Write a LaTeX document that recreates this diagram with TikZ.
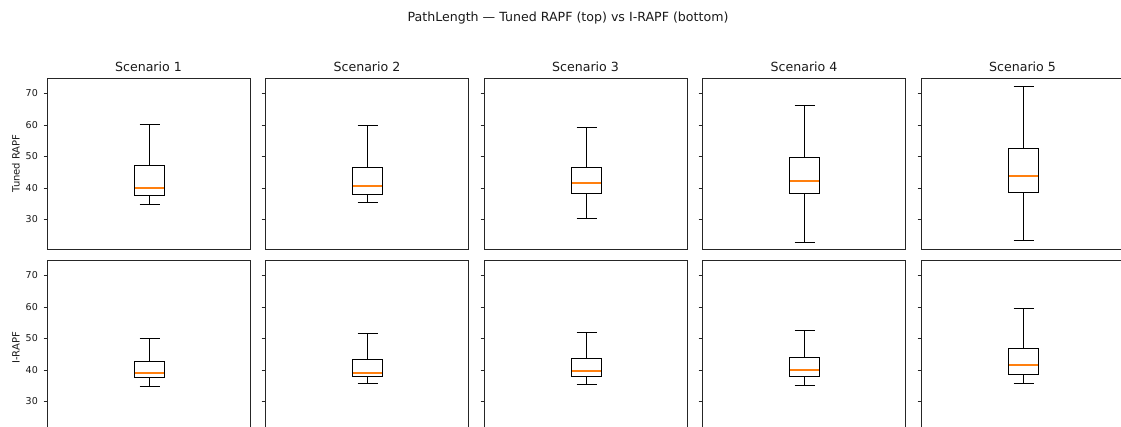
\documentclass[tikz,border=0pt]{standalone}
\usepackage{fontspec}
\setmainfont{DejaVu Sans}
\definecolor{mplorange}{HTML}{FF7F0E}
\definecolor{txt}{HTML}{1A1A1A}
\tikzset{
  frame/.style={draw=black!85,line width=1pt},
  bx/.style={draw=black,line width=1.2pt},
  med/.style={draw=mplorange,line width=1.8pt},
  tickm/.style={draw=black!85,line width=1pt},
  ticklab/.style={anchor=east,inner sep=0pt,text=txt,font=\fontsize{9.5}{11}\selectfont},
  ptitle/.style={anchor=base,inner sep=0pt,text=txt,font=\fontsize{12.6}{14}\selectfont},
  ylab/.style={rotate=90,inner sep=0pt,text=txt,font=\fontsize{10}{12}\selectfont},
}
% #1 left, #2 top, #3 whisker hi, #4 q3, #5 median, #6 q1, #7 whisker lo
\newcommand\bxplot[7]{%
  \pgfmathsetmacro\lx{round(#1)+0.5}%
  \pgfmathsetmacro\rx{\lx+203}%
  \pgfmathsetmacro\ty{round(#2)+0.5}%
  \pgfmathsetmacro\cx{round(#1+101.5)+0.5}%
  \pgfmathsetmacro\ywh{round(#2+(74.9-#3)*3.14)+0.5}%
  \pgfmathsetmacro\yqt{round(#2+(74.9-#4)*3.14)+0.5}%
  \pgfmathsetmacro\ymd{round(#2+(74.9-#5)*3.14)}%
  \pgfmathsetmacro\yqb{round(#2+(74.9-#6)*3.14)+0.5}%
  \pgfmathsetmacro\ywl{round(#2+(74.9-#7)*3.14)+0.5}%
  \draw[frame] (\lx,\ty) rectangle (\rx,{\ty+171});
  \foreach \v in {30,40,50,60,70}{\pgfmathsetmacro\tk{round(#2+(74.9-\v)*3.14)+0.5}\draw[tickm] ({\lx-4},\tk) -- (\lx,\tk);}
  \draw[bx] (\cx,\ywh) -- (\cx,\yqt) (\cx,\yqb) -- (\cx,\ywl);
  \draw[bx] ({\cx-10},\ywh) -- ({\cx+10},\ywh) ({\cx-10},\ywl) -- ({\cx+10},\ywl);
  \draw[bx] ({\cx-15},\yqt) rectangle ({\cx+15},\yqb);
  \draw[med] ({\cx-14.4},\ymd) -- ({\cx+14.4},\ymd);
}
\begin{document}
\begin{tikzpicture}[x=1pt,y=-1pt]
\useasboundingbox[fill=white] (0,0) rectangle (1121,427);
\clip (0,0) rectangle (1121,427);
\node[ptitle] (sup) at (568,21.5) {PathLength — Tuned RAPF (top) vs I-RAPF (bottom)};
% titles
\node[ptitle] (t1) at (148.5,72) {Scenario 1};
\node[ptitle] (t2) at (367,72) {Scenario 2};
\node[ptitle] (t3) at (585.5,72) {Scenario 3};
\node[ptitle] (t4) at (804,72) {Scenario 4};
\node[ptitle] (t5) at (1022.5,72) {Scenario 5};
% top row
\bxplot{47}{78}{60.1}{47.1}{39.8}{37.7}{34.7}
\bxplot{265}{78}{59.9}{46.6}{40.6}{37.9}{35.5}
\bxplot{484}{78}{59.2}{46.6}{41.5}{38.2}{30.2}
\bxplot{702}{78}{66.3}{49.8}{42.1}{38.2}{22.6}
\bxplot{921}{78}{72.3}{52.7}{43.6}{38.7}{23.2}
% bottom row
\bxplot{47}{260}{50.0}{42.6}{39.0}{37.6}{34.8}
\bxplot{265}{260}{51.6}{43.4}{39.0}{37.8}{35.6}
\bxplot{484}{260}{52.1}{43.8}{39.5}{37.8}{35.4}
\bxplot{702}{260}{52.5}{44.1}{39.8}{37.9}{35.1}
\bxplot{921}{260}{59.5}{46.9}{41.4}{38.6}{35.7}
% tick labels
\foreach \v in {30,40,50,60,70}{
  \node[ticklab] (ta\v) at (38,{78+(74.9-\v)*3.14}) {\v};
  \node[ticklab] (tb\v) at (38,{260+(74.9-\v)*3.14}) {\v};
}
\node[ylab] (yl1) at (16,163.5) {Tuned RAPF};
\node[ylab] (yl2) at (16,348) {I-RAPF};
\end{tikzpicture}
\end{document}
